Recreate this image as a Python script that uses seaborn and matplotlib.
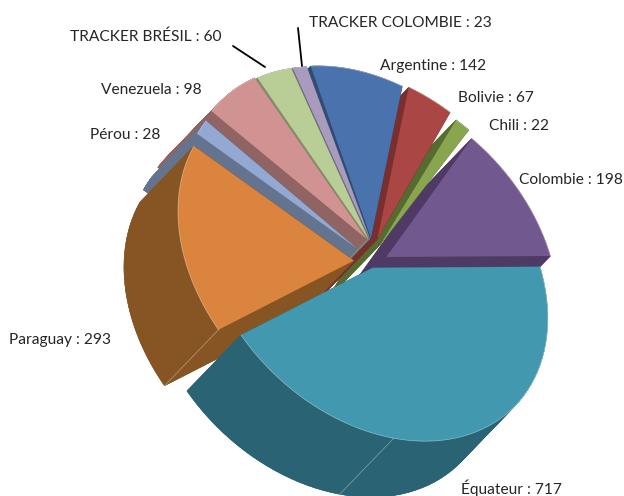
import numpy as np
import matplotlib
matplotlib.use("Agg")
import matplotlib.pyplot as plt
import seaborn as sns

names = ["Argentine", "Bolivie", "Chili", "Colombie", "Équateur", "Paraguay", "Pérou", "Venezuela", "TRACKER BRÉSIL", "TRACKER COLOMBIE"]
values = [142, 67, 22, 198, 717, 293, 28, 98, 60, 23]
top_colors = ["#4A72AC", "#AA4643", "#89A54E", "#71588F", "#4198AF", "#DB843D", "#93A9D3", "#D19392", "#B9CD96", "#A99BBD"]
side_colors = ["#2F4D73", "#7A2F2E", "#566B30", "#4F3A66", "#2A6474", "#875524", "#64748F", "#8F6463", "#7F9068", "#726A82"]

# projection of the tilted disc onto the picture, and how far each slice is pulled out
H = [176.81195, 12.7999, 373.77352, 37.58647, 167.65956, 258.79378, 0.01032, -0.01042]
START = -0.26116
explode = [0.12269, 0.12603, 0.10869, 0.09262, 0.03517, 0.11618, 0.10172, 0.10679, 0.11162, 0.11577]
rim_shift = [(-1, 0), (-3, -2), (1, 1), (0, 2), (-1, 1), (0, 5), (-1, 2), (3, -4), (2, -1), (1, 0)]
tip_shift = [(0, 0), (0, 0), (-3, -2), (0, 2), (-3, 2), (0, 0), (0, 0), (4, 0), (3, 0), (3, 0)]
DEPTH = (-54, 56)
order = [3, 2, 1, 0, 9, 8, 7, 6, 5, 4]

label_x = [380, 458, 489, 519, 461, 9, 90, 101, 70, 309]
label_y = [66, 98, 126, 180, 488, 340, 135, 90, 37, 23]

angles = np.concatenate([[0], np.cumsum(values)]) / np.sum(values) * 2 * np.pi


def project(u, v):
    w = H[6]*u + H[7]*v + 1
    return (H[0]*u + H[1]*v + H[2]) / w, (H[3]*u + H[4]*v + H[5]) / w


def wedge(i, n=60):
    t = np.linspace(angles[i], angles[i+1], n) + START
    mid = (angles[i] + angles[i+1]) / 2 + START
    ou, ov = explode[i]*np.sin(mid), -explode[i]*np.cos(mid)
    x, y = project(ou + np.sin(t), ov - np.cos(t))
    tx, ty = project(ou, ov)
    return x + rim_shift[i][0], y + rim_shift[i][1], tx + rim_shift[i][0] + tip_shift[i][0], ty + rim_shift[i][1] + tip_shift[i][1]


sns.set_theme(style="white")
plt.rcParams['font.family'] = ['Lato', 'DejaVu Sans']
fig = plt.figure(figsize=(6.24, 4.96), dpi=100)
ax = fig.add_axes([0, 0, 1, 1])
ax.set_xlim(0, 624)
ax.set_ylim(496, 0)
ax.axis("off")

for z, i in enumerate(order):
    x, y, tx, ty = wedge(i)
    px = np.r_[tx, x, tx]
    py = np.r_[ty, y, ty]
    # side wall: sweep every edge of the slice along the depth vector
    for k in range(len(px)-1):
        ax.fill([px[k], px[k+1], px[k+1]+DEPTH[0], px[k]+DEPTH[0]],
                [py[k], py[k+1], py[k+1]+DEPTH[1], py[k]+DEPTH[1]],
                color=side_colors[i], lw=0.3, zorder=z)
    ax.fill(px+DEPTH[0], py+DEPTH[1], color=side_colors[i], lw=0.3, zorder=z)
    ax.fill(px, py, color=top_colors[i], lw=0, zorder=z+0.5)
    ax.plot(x, y, color="white", alpha=0.45, lw=0.5, zorder=z+0.6)

# thin seams on the two big walls
for i, frac in [(5, 0.0), (4, 0.65)]:
    x, y, tx, ty = wedge(i)
    k = int(frac*(len(x)-1))
    ax.plot([x[k], x[k]+DEPTH[0]], [y[k], y[k]+DEPTH[1]], color="white", alpha=0.35, lw=0.6, zorder=20)

# leader lines for the two tracker labels
ax.plot([233, 265], [46, 67], color="black", lw=1.3, zorder=21)
ax.plot([298, 302], [28, 66], color="black", lw=1.3, zorder=21)

for i, name in enumerate(names):
    ax.text(label_x[i], label_y[i], f"{name} : {values[i]}", fontsize=11.2, color="#262626",
            ha="left", va="center", zorder=22)

fig.savefig("out.png", dpi=100)
